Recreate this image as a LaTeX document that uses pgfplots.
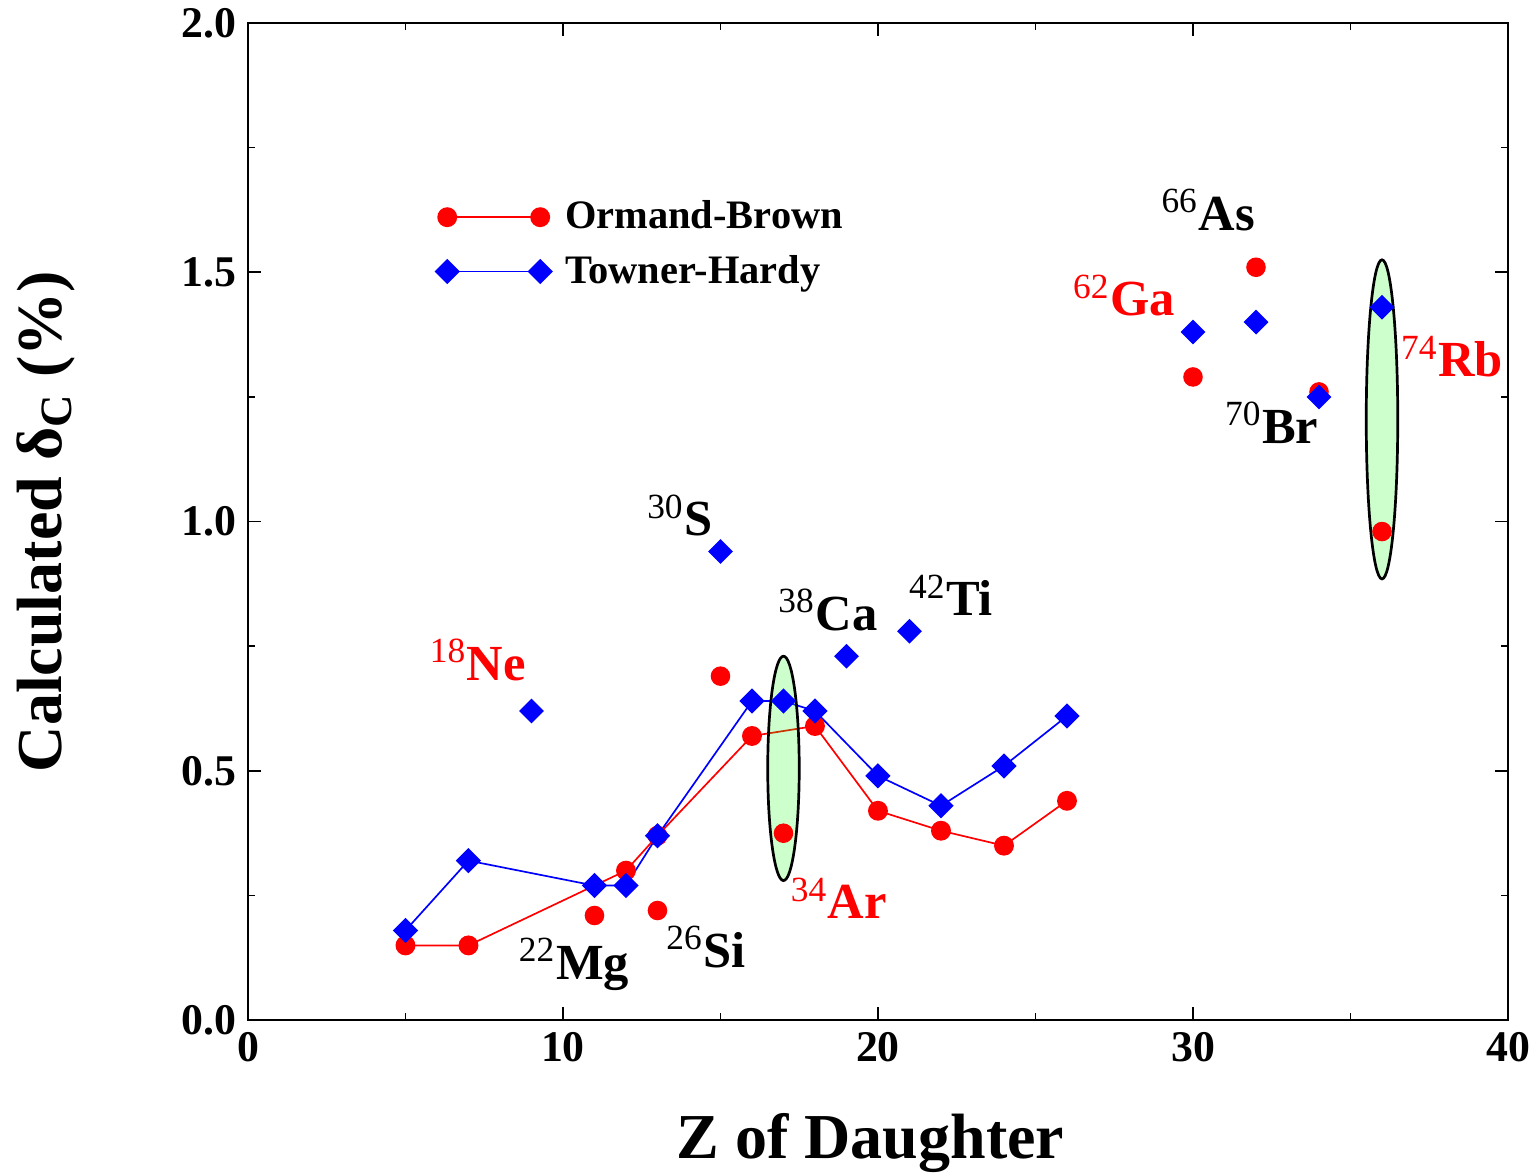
\documentclass[border=0pt]{standalone}
\usepackage{pgfplots}
\pgfplotsset{compat=1.18}
\usepackage{fontspec}
\setmainfont{Liberation Serif}[BoldFont={Liberation Serif Bold}]
\definecolor{obred}{HTML}{FF0000}
\definecolor{thblue}{HTML}{0000FF}

% Ormand-Brown, connected
\pgfplotstableread{
z dc
5 0.15
7 0.15
12 0.30
13 0.37
16 0.57
18 0.59
20 0.42
22 0.38
24 0.35
26 0.44
}\obline
% Ormand-Brown, single points
\pgfplotstableread{
z dc
11 0.21
13 0.22
15 0.69
17 0.375
30 1.29
32 1.51
34 1.26
36 0.98
}\obpts
% Towner-Hardy, connected
\pgfplotstableread{
z dc
5 0.18
7 0.32
11 0.27
12 0.27
13 0.37
16 0.64
17 0.64
18 0.62
20 0.49
22 0.43
24 0.51
26 0.61
}\thline
% Towner-Hardy, single points
\pgfplotstableread{
z dc
9 0.62
15 0.94
19 0.73
21 0.78
30 1.38
32 1.40
34 1.25
36 1.43
}\thpts

\newcommand{\nuc}[2]{\textsuperscript{\mdseries #1}#2}

\begin{document}
\begin{tikzpicture}
\begin{axis}[
  scale only axis, width=374pt, height=296pt,
  xmin=0, xmax=40, ymin=0, ymax=2,
  xtick={0,10,20,30,40}, ytick={0,0.5,1,1.5,2},
  minor x tick num=1, minor y tick num=1,
  tick align=inside, major tick length=4pt, minor tick length=2.2pt,
  every tick/.style={black, line width=0.5pt},
  axis line style={line width=0.6pt},
  /pgf/number format/assume math mode=true,
  tick label style={font=\fontsize{13}{13}\selectfont\bfseries},
  yticklabel style={/pgf/number format/.cd, fixed, fixed zerofill, precision=1},
  xlabel={Z of Daughter},
  ylabel={Calculated δ\textsubscript{C} (\%)},
  label style={font=\fontsize{19}{19}\selectfont\bfseries},
  xlabel style={at={(axis description cs:0.494,-0.139)}, anchor=base},
  ylabel style={at={(axis description cs:-0.16,0.5)}, anchor=center, rotate=0},
  legend style={at={(axis cs:5.62,1.672)}, anchor=north west, draw=none, fill=none,
    font=\fontsize{12}{12}\selectfont\bfseries, row sep=2.3pt, column sep=2pt},
  legend cell align=left,
  legend image code/.code={\draw plot coordinates {(0pt,0pt) (27.6pt,0pt)};},
]
\addplot[obred, line width=0.5pt, mark=*, mark size=2.7pt, mark options={solid, fill=obred, draw=obred}]
  table[x=z, y=dc] {\obline};
\addlegendentry{Ormand-Brown}
\addplot[obred, only marks, mark=*, mark size=2.7pt, mark options={fill=obred, draw=obred}, forget plot]
  table[x=z, y=dc] {\obpts};
\addplot[thblue, line width=0.5pt, mark=square*, mark size=2.4pt, mark options={solid, rotate=45, fill=thblue, draw=thblue}]
  table[x=z, y=dc] {\thline};
\addlegendentry{Towner-Hardy}
\addplot[thblue, only marks, mark=square*, mark size=2.4pt, mark options={rotate=45, fill=thblue, draw=thblue}, forget plot]
  table[x=z, y=dc] {\thpts};

% highlighted cases
\draw[black, line width=0.8pt, fill=green, fill opacity=0.2]
  (axis cs:17,0.505) ellipse [x radius=0.5, y radius=0.225];
\draw[black, line width=0.8pt, fill=green, fill opacity=0.2]
  (axis cs:36,1.205) ellipse [x radius=0.5, y radius=0.32];

\begin{scope}[every node/.style={font=\fontsize{15}{15}\selectfont\bfseries, yshift=1.8pt}]
\node[black] at (axis cs:13.71,1.00) {\nuc{30}{S}};
\node[obred] at (axis cs:7.30,0.71) {\nuc{18}{Ne}};
\node[black] at (axis cs:18.41,0.81) {\nuc{38}{Ca}};
\node[black] at (axis cs:22.32,0.84) {\nuc{42}{Ti}};
\node[black] at (axis cs:10.35,0.10) {\nuc{22}{Mg}};
\node[black] at (axis cs:14.54,0.134) {\nuc{26}{Si}};
\node[obred] at (axis cs:18.76,0.232) {\nuc{34}{Ar}};
\node[black] at (axis cs:30.48,1.613) {\nuc{66}{As}};
\node[obred] at (axis cs:27.81,1.441) {\nuc{62}{Ga}};
\node[black] at (axis cs:32.50,1.186) {\nuc{70}{Br}};
\node[obred] at (axis cs:38.22,1.319) {\nuc{74}{Rb}};
\end{scope}

% page margins as in the reference
\coordinate (bbll) at (axis description cs:-0.1968,-0.1543);
\coordinate (bbur) at (axis description cs:1.0230,1.0230);
\end{axis}
\pgfresetboundingbox
\path[use as bounding box] (bbll) rectangle (bbur);
\end{tikzpicture}
\end{document}
